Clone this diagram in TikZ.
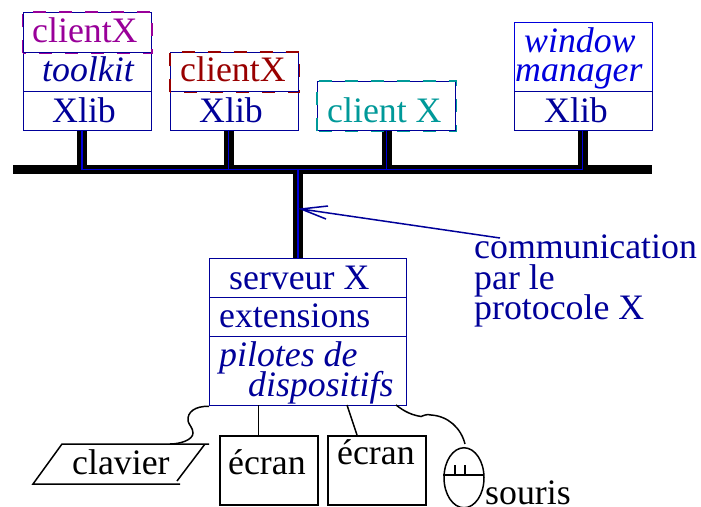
\documentclass[tikz,border=0pt]{standalone}
\usetikzlibrary{shapes.geometric}
\usepackage{fontspec}
\setmainfont{Liberation Serif}
\definecolor{navy}{HTML}{000099}
\definecolor{bright}{HTML}{0000DD}
\definecolor{purp}{HTML}{990099}
\definecolor{dred}{HTML}{990000}
\definecolor{teal2}{HTML}{009999}
\tikzset{
  cell/.style={draw=navy,line width=1.3pt,fill=white},
  over/.style={line width=1.5pt,dash pattern=on 13pt off 13pt},
  lab/.style={font=\fontsize{35.8pt}{30pt}\selectfont,inner sep=0pt,anchor=base west},
  navytxt/.style={lab,text=navy},
  bus/.style={line width=10pt,black},
  sig/.style={line width=1.5pt,navy},
  sigb/.style={line width=1.5pt,bright},
  inkline/.style={line width=1.5pt,black}
}
\begin{document}
\begin{tikzpicture}[x=1pt,y=-1pt]
\useasboundingbox (0,0) rectangle (701,506);
% bus
\coordinate (busL) at (13,169.5); \coordinate (busR) at (652,169.5);
\draw[black,line width=9.5pt] (busL) -- (busR);
\coordinate (s1) at (82,130); \coordinate (s2) at (228.5,130); \coordinate (s3) at (386.5,130); \coordinate (s4) at (582.5,130);
\coordinate (s5) at (298,170); \coordinate (s5b) at (298,258);
\foreach \p in {s1,s2,s3,s4}{\draw[bus] (\p) -- (\p |- busL);}
\draw[bus] (s5) -- (s5b);
\draw[sigb] (s1 |- busL) -- (s4 |- busL);
\foreach \p in {s1,s2,s3,s4}{\draw[sigb] (\p) -- (\p |- busL);}
\draw[sigb] (s5) -- (s5b);
% box 1
\node[cell,minimum width=128pt,minimum height=40pt,anchor=north west] (a1) at (22.5,12) {};
\node[cell,minimum width=128pt,minimum height=39pt,anchor=north west] (a2) at (22.5,52) {};
\node[cell,minimum width=128pt,minimum height=39pt,anchor=north west] (a3) at (22.5,91) {};
\draw[purp,over] (a1.south west) rectangle (a1.north east);
\node[lab,text=purp] (t1) at (32,42.5) {clientX};
\node[navytxt] (t2) at (42,81.5) {\itshape toolkit};
\node[navytxt] (t3) at (52,122) {Xlib};
% box 2
\node[cell,minimum width=128pt,minimum height=39pt,anchor=north west] (b1) at (170,52) {};
\node[cell,minimum width=128pt,minimum height=39pt,anchor=north west] (b2) at (170,91) {};
\draw[dred,over] (b1.south west) rectangle (b1.north east);
\node[lab,text=dred] (t4) at (180,81.5) {clientX};
\node[navytxt] (t5) at (199,122) {Xlib};
% box 3
\node[cell,minimum width=138pt,minimum height=49pt,anchor=north west] (c1) at (317,81) {};
\draw[teal2,over] (c1.south west) rectangle (c1.north east);
\node[lab,text=teal2] (t6) at (327,122) {client X};
% box 4
\node[cell,draw=bright,minimum width=138pt,minimum height=69pt,anchor=north west] (d1) at (514,22) {};
\node[cell,minimum width=138pt,minimum height=39pt,anchor=north west] (d2) at (514,91) {};
\node[lab,text=bright] (t7) at (524,52) {\itshape window};
\node[lab,text=bright] (t8) at (515,81.5) {\itshape manager};
\node[navytxt] (t9) at (544,122) {Xlib};
% server
\node[cell,minimum width=197pt,minimum height=39pt,anchor=north west] (e1) at (209,258) {};
\node[cell,minimum width=197pt,minimum height=39pt,anchor=north west] (e2) at (209,297) {};
\node[cell,minimum width=197pt,minimum height=69pt,anchor=north west] (e3) at (209,336) {};
\node[navytxt] (t10) at (229,289) {serveur X};
\node[navytxt] (t11) at (219,327.5) {extensions};
\node[navytxt] (t12) at (219,366.5) {\itshape pilotes de};
\node[navytxt] (t13) at (248,396) {\itshape dispositifs};
% comm
\node[navytxt] (t14) at (474,258.5) {communication};
\node[navytxt] (t15) at (474,289) {par le};
\node[navytxt] (t16) at (474,319.5) {protocole X};
\coordinate (tip) at (301,209); \coordinate (tail) at (500,238);
\coordinate (h1) at (328,206); \coordinate (h2) at (326,219);
\draw[sig] (tail) -- (tip) (h1) -- (tip) -- (h2);
% keyboard
\coordinate (k1) at (62,444); \coordinate (k2) at (205,444); \coordinate (k3) at (33,484); \coordinate (k4) at (180,484); \coordinate (k5) at (209,444); \coordinate (k6) at (177,481);
\draw[inkline] (k5) -- (k1) -- (k3) -- (k4) (k2) -- (k6);
\node[lab] (t17) at (72,474) {clavier};
% screens
\node[draw,inkline,minimum width=98pt,minimum height=69pt,anchor=north west] (f1) at (219,435) {};
\node[draw,inkline,minimum width=98pt,minimum height=69pt,anchor=north west] (f2) at (327,435) {};
\node[lab] (t18) at (228,474) {écran};
\node[lab] (t19) at (337,464) {écran};
\coordinate (w1) at (258.5,405); \coordinate (w2) at (258.5,435); \coordinate (w3) at (347,405); \coordinate (w4) at (357,435);
\draw[inkline] (w1) -- (w2);
\draw[inkline] (w3) -- (w4);
% cables
\draw[inkline] (e3.south west) .. controls (195,406) and (187,412) .. (188,421) .. controls (189,425) and (193,428) .. (193,433) .. controls (193,440) and (180,444) .. (170,444);
\draw[inkline] (396,405) .. controls (405,412) and (412,415) .. (421,416.5) .. controls (425,415) and (427,414) .. (431,415) .. controls (448,416) and (461,428) .. (465,444);
% mouse
\node[draw,inkline,ellipse,minimum width=40pt,minimum height=60pt,anchor=north,inner sep=0pt] (m) at (464,447) {};
\draw[inkline] (m.west) ++(0,-3) -- ++(40,0) (455,474) -- (455,465) (465,474) -- (465,465);
\node[lab] (t20) at (485,504) {souris};
\end{tikzpicture}
\end{document}
